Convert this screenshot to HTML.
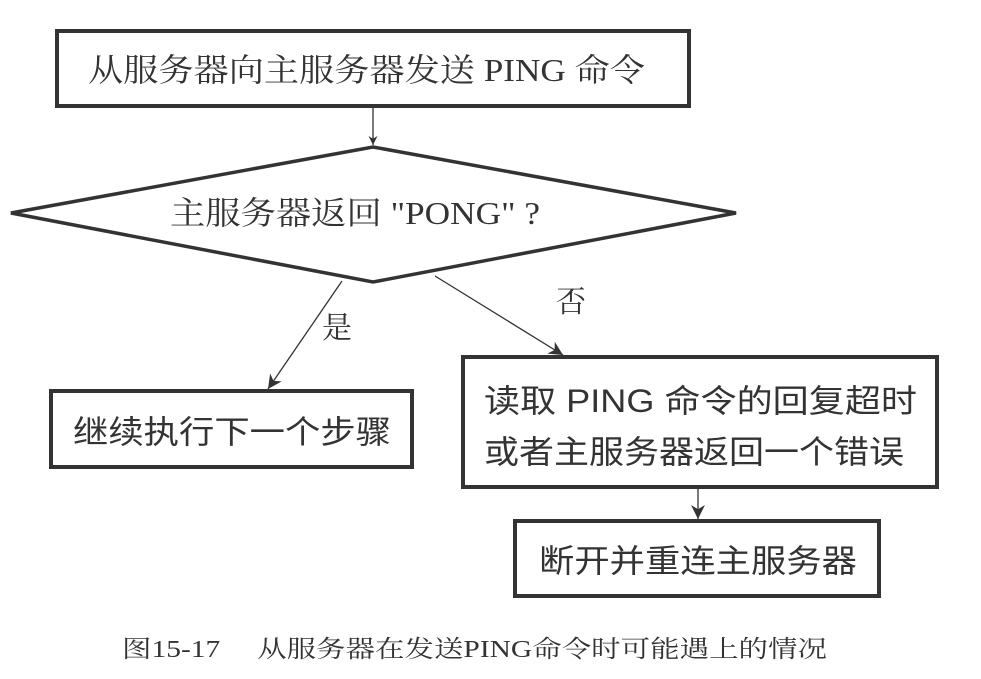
<!DOCTYPE html>
<html><head><meta charset="utf-8"><style>
html,body{margin:0;padding:0;background:#fff;}
svg{display:block;}
text{font-family:"Liberation Serif","Noto Serif CJK SC","Noto Sans CJK SC",serif;fill:#333;}
.s{font-family:"Liberation Sans","Noto Sans CJK SC",sans-serif;}
</style></head><body>
<svg width="981" height="679" viewBox="0 0 981 679" xmlns="http://www.w3.org/2000/svg">
<defs>
<marker id="a" viewBox="0 0 10 10" refX="10" refY="5" markerWidth="9" markerHeight="9" orient="auto" markerUnits="userSpaceOnUse"><path d="M0,0 L10,5 L0,10 L3,5 z" fill="#333"/></marker>
<marker id="b" viewBox="0 0 10 10" refX="10" refY="5" markerWidth="14" markerHeight="14" orient="auto" markerUnits="userSpaceOnUse"><path d="M0,0 L10,5 L0,10 L3,5 z" fill="#333"/></marker>
</defs>
<g fill="#fff" stroke="#333" stroke-width="4">
<rect x="57" y="31" width="632" height="75"/>
<polygon points="11,213 373,147 736,213 373,282" stroke-width="3.5"/>
<rect x="51" y="391" width="361" height="76"/>
<rect x="463" y="357" width="474" height="130"/>
<rect x="515" y="521" width="364" height="75"/>
</g>
<g stroke="#333" stroke-width="1.3" fill="none">
<line x1="373" y1="107" x2="373" y2="145" marker-end="url(#a)"/>
<line x1="342" y1="281" x2="268" y2="389" marker-end="url(#b)"/>
<line x1="435" y1="276" x2="563" y2="355" marker-end="url(#b)"/>
<line x1="698" y1="488" x2="698" y2="519" marker-end="url(#b)"/>
</g>
<text x="88" y="81" font-size="32" textLength="557" lengthAdjust="spacingAndGlyphs">从服务器向主服务器发送 PING 命令</text>
<text x="170" y="224" font-size="32" textLength="370" lengthAdjust="spacingAndGlyphs">主服务器返回 "PONG" ?</text>
<text x="322" y="338" font-size="30">是</text>
<text x="556" y="312" font-size="30">否</text>
<text class="s" x="73" y="443" font-size="32" textLength="318" lengthAdjust="spacingAndGlyphs">继续执行下一个步骤</text>
<text class="s" x="484" y="412" font-size="32" textLength="433" lengthAdjust="spacingAndGlyphs">读取  PING  命令的回复超时</text>
<text class="s" x="484" y="463" font-size="32" textLength="420" lengthAdjust="spacingAndGlyphs">或者主服务器返回一个错误</text>
<text class="s" x="539" y="572" font-size="32" textLength="318" lengthAdjust="spacingAndGlyphs">断开并重连主服务器</text>
<text x="122" y="657" font-size="24" textLength="705" lengthAdjust="spacingAndGlyphs">图15-17　 从服务器在发送PING命令时可能遇上的情况</text>
</svg>
</body></html>
